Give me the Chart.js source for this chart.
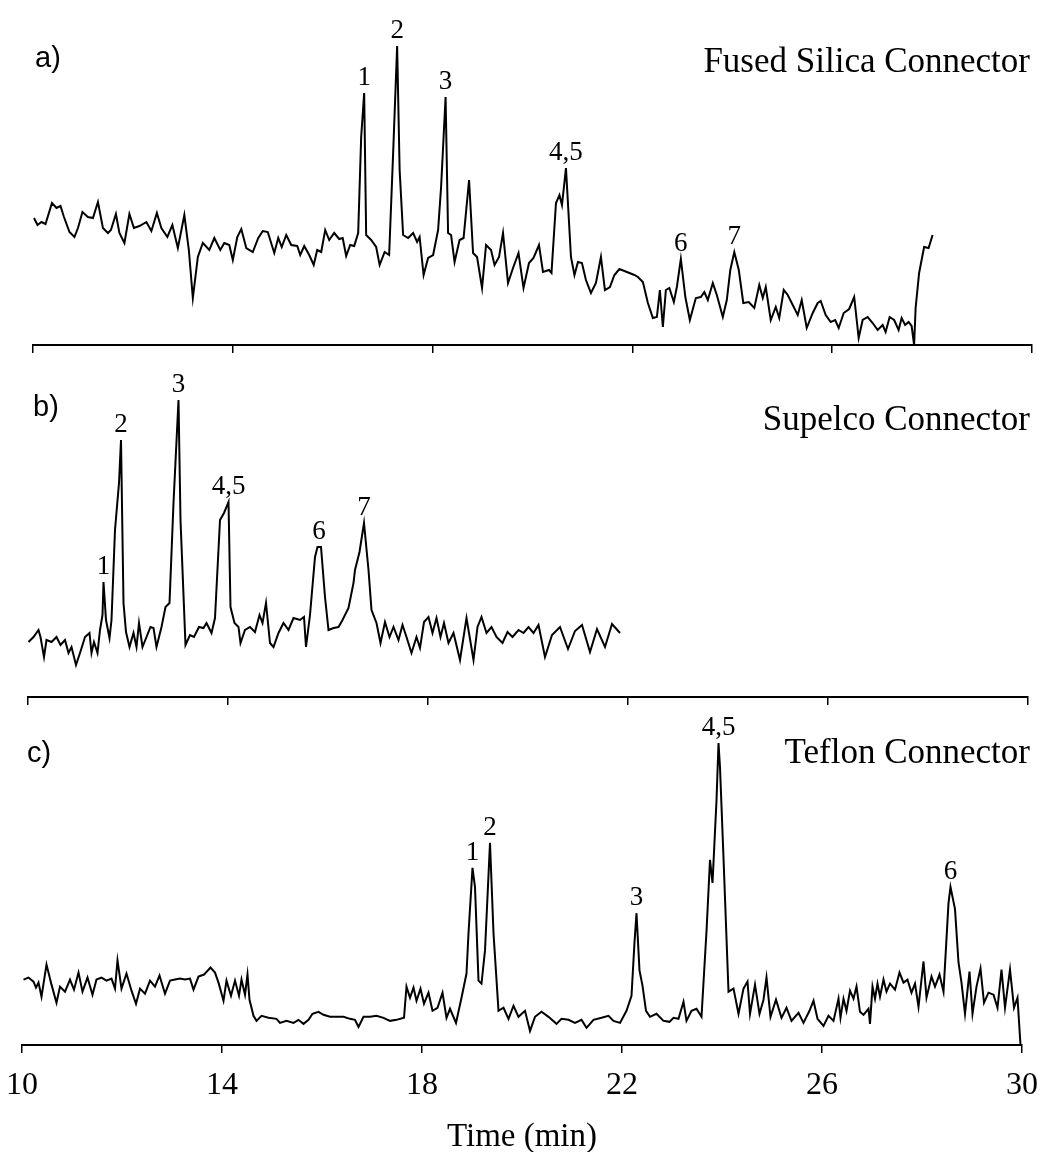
<!DOCTYPE html>
<html>
<head>
<meta charset="utf-8">
<title>Connector chromatograms</title>
<script src="https://cdn.jsdelivr.net/npm/chart.js@4.4.1/dist/chart.umd.min.js"></script>
<style>
  html, body { margin: 0; background: #fff; overflow: hidden; }
  #wrap { position: relative; width: 1046px; height: 1152px; overflow: hidden; }
  canvas { position: absolute; left: 0; }
</style>
</head>
<body>
<div id="wrap">
  <canvas id="panelA" width="1046" height="360" style="top:0"></canvas>
  <canvas id="panelB" width="1046" height="350" style="top:360px"></canvas>
  <canvas id="panelC" width="1046" height="447" style="top:710px"></canvas>
</div>
<script>
// time axis ticks (min)
const timeTicks = [10, 14, 18, 22, 26, 30];

// a) Fused Silica Connector
const timeA = [10.02,10.09,10.17,10.25,10.38,10.47,10.55,10.62,10.73,10.83,
  10.90,10.99,11.10,11.20,11.30,11.40,11.50,11.56,11.66,11.73,
  11.83,11.93,12.02,12.13,12.27,12.37,12.48,12.57,12.69,12.79,
  12.90,13.03,13.12,13.20,13.30,13.40,13.53,13.63,13.75,13.83,
  13.93,14.00,14.09,14.17,14.27,14.40,14.51,14.60,14.70,14.83,
  14.91,14.98,15.07,15.17,15.29,15.35,15.43,15.53,15.62,15.69,
  15.77,15.85,15.93,16.03,16.13,16.20,16.27,16.35,16.43,16.51,
  16.57,16.63,16.67,16.77,16.87,16.94,17.04,17.13,17.21,17.29,
  17.34,17.41,17.51,17.61,17.69,17.74,17.82,17.91,18.01,18.11,
  18.17,18.26,18.31,18.37,18.44,18.54,18.62,18.73,18.81,18.89,
  18.99,19.07,19.17,19.24,19.33,19.41,19.51,19.61,19.72,19.82,
  19.93,20.02,20.13,20.21,20.33,20.38,20.47,20.54,20.59,20.67,
  20.77,20.84,20.91,20.99,21.07,21.17,21.27,21.37,21.45,21.55,
  21.64,21.74,21.84,21.94,22.04,22.11,22.21,22.31,22.41,22.49,
  22.55,22.61,22.67,22.74,22.83,22.89,22.97,23.06,23.15,23.27,
  23.37,23.44,23.51,23.61,23.69,23.81,23.89,23.96,24.04,24.13,
  24.22,24.33,24.44,24.54,24.61,24.67,24.77,24.87,24.94,25.03,
  25.11,25.21,25.31,25.39,25.49,25.61,25.71,25.77,25.87,25.97,
  26.06,26.13,26.23,26.34,26.44,26.53,26.61,26.71,26.81,26.91,
  27.01,27.07,27.15,27.24,27.33,27.39,27.46,27.53,27.59,27.64,
  27.67,27.74,27.84,27.93,28.01];
const signalA = [127,120,123,121,142,137,139,128,113,108,
  117,133,128,127,143,117,112,115,131,112,
  102,131,117,119,123,114,132,117,108,120,
  97,130,95,47,88,102,95,107,95,102,
  100,85,108,116,97,93,107,114,113,92,
  107,98,110,100,99,90,99,90,80,95,
  93,115,105,112,106,107,89,100,99,112,
  208,252,110,105,98,80,93,90,192,299,
  175,110,107,112,103,108,70,87,90,115,
  158,248,112,110,83,105,107,165,92,88,
  57,100,95,80,88,112,62,77,92,57,
  82,87,100,73,75,72,142,150,140,177,
  88,70,83,82,65,52,62,88,55,58,
  70,76,74,72,70,68,63,42,27,28,
  55,18,55,57,43,58,86,48,25,47,
  48,53,45,62,50,28,45,75,93,75,
  42,43,37,60,47,58,25,38,27,55,
  50,40,30,45,17,32,42,44,30,23,
  25,17,32,36,48,7,25,28,22,15,
  20,13,28,25,15,27,20,23,19,0,
  37,72,98,97,110];
const peakTimesA = [16.63, 17.29, 18.26, 20.67, 22.97, 24.04];
const peakNamesA = ['1', '2', '3', '4,5', '6', '7'];

// b) Supelco Connector
const timeB = [10.01,10.11,10.21,10.25,10.32,10.37,10.47,10.57,10.65,10.74,
  10.81,10.87,10.96,11.04,11.14,11.23,11.27,11.32,11.39,11.44,
  11.49,11.51,11.56,11.63,11.67,11.74,11.82,11.86,11.91,11.96,
  12.03,12.11,12.17,12.22,12.29,12.37,12.45,12.51,12.57,12.67,
  12.75,12.83,12.91,13.01,13.05,13.15,13.24,13.32,13.42,13.51,
  13.57,13.67,13.74,13.84,13.92,14.01,14.05,14.13,14.21,14.25,
  14.34,14.44,14.54,14.63,14.69,14.76,14.84,14.91,15.01,15.11,
  15.21,15.31,15.44,15.52,15.56,15.64,15.74,15.79,15.86,15.94,
  16.01,16.11,16.21,16.29,16.41,16.51,16.54,16.63,16.72,16.81,
  16.87,16.97,17.05,17.14,17.23,17.31,17.41,17.49,17.57,17.67,
  17.77,17.84,17.92,18.01,18.09,18.17,18.25,18.32,18.41,18.51,
  18.64,18.77,18.91,18.99,19.07,19.17,19.27,19.37,19.49,19.59,
  19.69,19.81,19.91,20.01,20.11,20.21,20.34,20.48,20.64,20.80,
  20.94,21.08,21.24,21.38,21.54,21.68,21.84];
const signalB = [55,60,67,60,40,57,55,60,52,57,
  44,50,32,44,60,64,44,55,44,67,
  82,115,77,59,77,167,214,257,94,65,
  50,64,50,74,50,60,70,69,50,70,
  90,94,194,297,177,52,62,60,70,69,
  74,64,79,177,184,195,90,74,70,54,
  67,70,65,82,74,94,54,50,64,74,
  67,79,77,80,50,82,140,150,150,100,
  67,69,70,77,89,114,127,145,174,127,
  87,74,54,75,60,70,57,72,60,44,
  60,49,75,80,64,79,60,74,54,64,
  37,79,37,70,80,64,70,60,54,65,
  60,67,64,70,64,72,40,62,70,48,
  66,72,45,68,50,73,64];
const peakTimesB = [11.51, 11.86, 13.01, 14.01, 15.82, 16.72];
const peakNamesB = ['1', '2', '3', '4,5', '6', '7'];

// c) Teflon Connector
const timeC = [10.03,10.13,10.23,10.28,10.33,10.39,10.49,10.59,10.69,10.76,
  10.86,10.96,11.04,11.13,11.21,11.31,11.41,11.49,11.59,11.69,
  11.79,11.86,11.91,11.99,12.09,12.19,12.28,12.36,12.46,12.56,
  12.66,12.75,12.86,12.96,13.06,13.16,13.26,13.36,13.43,13.53,
  13.64,13.77,13.86,13.93,14.03,14.09,14.18,14.26,14.34,14.39,
  14.46,14.51,14.55,14.63,14.69,14.79,14.93,15.09,15.16,15.29,
  15.43,15.53,15.63,15.73,15.81,15.93,16.03,16.16,16.29,16.43,
  16.56,16.66,16.73,16.83,16.96,17.09,17.23,17.36,17.49,17.64,
  17.69,17.76,17.83,17.89,17.97,18.04,18.13,18.21,18.31,18.41,
  18.49,18.56,18.68,18.79,18.89,18.93,19.01,19.06,19.13,19.19,
  19.26,19.36,19.43,19.53,19.63,19.73,19.83,19.93,20.06,20.16,
  20.26,20.39,20.53,20.69,20.79,20.93,21.06,21.19,21.29,21.43,
  21.59,21.73,21.83,21.96,22.09,22.19,22.25,22.29,22.35,22.41,
  22.48,22.56,22.69,22.83,22.95,23.03,23.13,23.23,23.29,23.39,
  23.49,23.59,23.69,23.76,23.81,23.89,23.93,23.96,24.03,24.13,
  24.23,24.33,24.43,24.51,24.56,24.66,24.75,24.83,24.89,24.97,
  25.08,25.19,25.29,25.39,25.53,25.63,25.75,25.83,25.91,26.03,
  26.13,26.23,26.33,26.37,26.43,26.49,26.56,26.63,26.69,26.76,
  26.83,26.93,26.96,27.01,27.06,27.11,27.16,27.23,27.29,27.36,
  27.46,27.55,27.63,27.71,27.79,27.86,27.93,28.03,28.09,28.19,
  28.26,28.35,28.43,28.53,28.57,28.66,28.73,28.79,28.86,28.95,
  29.01,29.09,29.17,29.24,29.33,29.43,29.51,29.59,29.66,29.76,
  29.84,29.91,29.97];
const signalC = [65,67,63,57,62,48,80,60,42,58,
  53,65,55,72,53,67,50,65,67,64,
  66,56,84,56,71,54,41,56,51,64,
  58,69,51,64,65,66,65,66,55,68,
  70,77,72,62,44,64,49,64,49,65,
  50,70,45,29,24,29,27,26,22,24,
  22,25,21,25,31,33,30,28,28,28,
  26,25,18,28,28,29,27,24,25,27,
  58,47,57,44,56,41,52,34,37,52,
  27,36,22,47,71,111,176,157,64,61,
  94,201,111,34,37,26,39,28,34,14,
  28,33,28,21,26,25,22,25,17,25,
  27,29,24,22,34,49,102,131,74,59,
  34,28,31,24,23,27,26,43,24,34,
  36,28,113,184,161,243,300,276,186,53,
  56,31,56,63,31,60,31,45,67,28,
  45,27,37,24,32,22,34,44,26,19,
  29,24,46,27,46,34,54,46,58,33,
  30,36,21,58,46,61,48,65,53,61,
  55,72,62,65,52,61,38,83,47,68,
  58,70,53,141,157,135,82,62,31,73,
  31,58,76,42,52,50,37,75,37,75,
  37,47,0];
const peakTimesC = [19.01, 19.36, 22.29, 23.93, 28.57];
const peakNamesC = ['1', '2', '3', '4,5', '6'];

// draws the peak numbers, the panel letter and the connector name
const panelText = {
  id: 'panelText',
  afterDatasetsDraw(chart, args, opts) {
    const ctx = chart.ctx;
    const xs = chart.scales.x, ys = chart.scales.y;
    const pts = chart.data.datasets[0].data;
    ctx.save();
    ctx.fillStyle = '#000';
    ctx.textBaseline = 'alphabetic';
    ctx.textAlign = 'center';
    ctx.font = '27px "Liberation Serif"';
    opts.peaks.forEach((t, i) => {
      let top = 0;
      pts.forEach(p => { if (Math.abs(p.x - t) < 0.08 && p.y > top) top = p.y; });
      ctx.fillText(opts.names[i], xs.getPixelForValue(t), ys.getPixelForValue(top) - 8);
    });
    ctx.textAlign = 'left';
    ctx.font = '29px "Liberation Sans"';
    ctx.fillText(opts.letter, opts.letterX, opts.letterY);
    ctx.textAlign = 'right';
    ctx.font = '35px "Liberation Serif"';
    ctx.fillText(opts.title, opts.titleX, opts.titleY);
    ctx.restore();
  }
};

function makePanel(id, times, signal, text, padding, yMax, showLabels) {
  const points = times.map((t, i) => ({ x: t, y: signal[i] }));
  return new Chart(document.getElementById(id), {
    type: 'line',
    data: {
      datasets: [{
        data: points,
        borderColor: '#000',
        borderWidth: 2,
        pointRadius: 0,
        tension: 0,
        fill: false
      }]
    },
    options: {
      responsive: false,
      animation: false,
      devicePixelRatio: 1,
      layout: { padding: padding },
      plugins: {
        legend: { display: false },
        tooltip: { enabled: false },
        panelText: text
      },
      scales: {
        x: {
          type: 'linear',
          min: timeTicks[0],
          max: timeTicks[timeTicks.length - 1],
          afterBuildTicks: scale => { scale.ticks = timeTicks.map(v => ({ value: v })); },
          // let the layout padding alone decide where the axis ends
          afterFit: scale => { scale.paddingLeft = 0; scale.paddingRight = 0; },
          border: { display: true, color: '#000', width: 2 },
          grid: { display: true, drawOnChartArea: false, drawTicks: true, tickLength: 8, color: '#000', lineWidth: 1.5 },
          ticks: {
            display: showLabels,
            color: '#000',
            padding: 13,
            maxRotation: 0,
            font: { family: 'Liberation Serif', size: 32 }
          },
          title: {
            display: showLabels,
            text: 'Time (min)',
            color: '#000',
            padding: { top: 0, bottom: 0 },
            font: { family: 'Liberation Serif', size: 33 }
          }
        },
        y: { display: false, min: 0, max: yMax }
      }
    },
    plugins: [panelText]
  });
}

makePanel('panelA', timeA, signalA,
  { peaks: peakTimesA, names: peakNamesA, letter: 'a)', letterX: 35, letterY: 67, title: 'Fused Silica Connector', titleX: 1030, titleY: 72 },
  { left: 33, right: 14, top: 15, bottom: 7 }, 330, false);

makePanel('panelB', timeB, signalB,
  { peaks: peakTimesB, names: peakNamesB, letter: 'b)', letterX: 33, letterY: 56, title: 'Supelco Connector', titleX: 1030, titleY: 70 },
  { left: 28, right: 18, top: 17, bottom: 5 }, 320, false);

makePanel('panelC', timeC, signalC,
  { peaks: peakTimesC, names: peakNamesC, letter: 'c)', letterX: 27, letterY: 52, title: 'Teflon Connector', titleX: 1030, titleY: 53 },
  { left: 22, right: 24, top: 13, bottom: 0 }, 320, true);
</script>
</body>
</html>
